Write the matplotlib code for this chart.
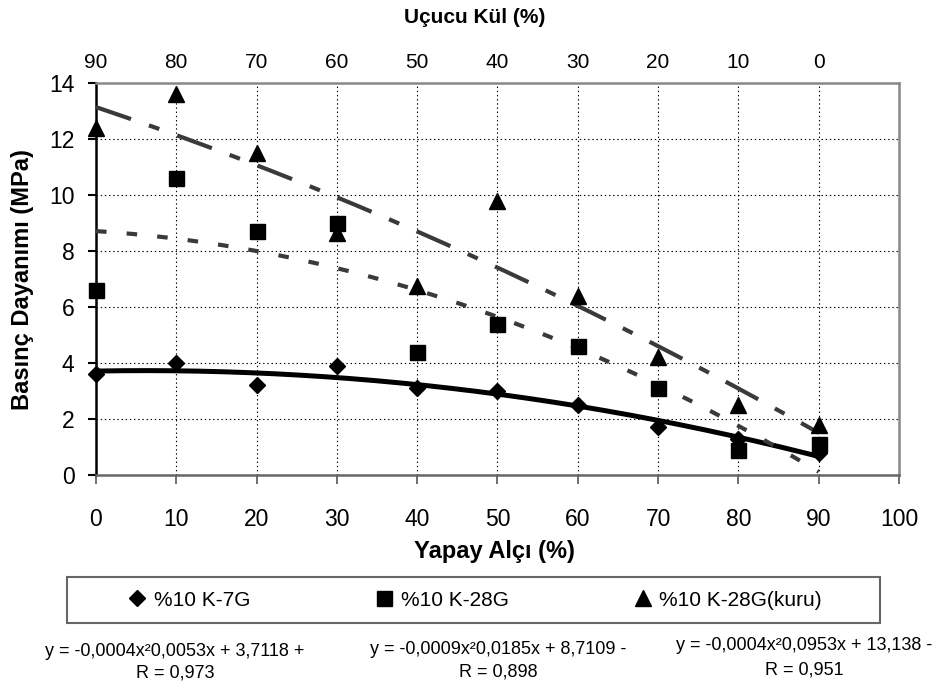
import numpy as np
import matplotlib
matplotlib.use('Agg')
import matplotlib.pyplot as plt
from matplotlib.lines import Line2D
from matplotlib.patches import Rectangle


#################### Data ####################


# bottom axis: yapay alci (%), top axis: ucucu kul (%)
yapay_alci = [0, 10, 20, 30, 40, 50, 60, 70, 80, 90]
ucucu_kul_labels = ['90', '80', '70', '60', '50', '40', '30', '20', '10', '0']

# compressive strength (MPa)
k_7g = [3.6, 4.0, 3.2, 3.9, 3.1, 3.0, 2.5, 1.7, 1.3, 0.8]
k_28g = [6.6, 10.6, 8.7, 9.0, 4.4, 5.4, 4.6, 3.1, 0.9, 1.1]
k_28g_kuru = [12.4, 13.6, 11.5, 8.65, 6.75, 9.8, 6.4, 4.2, 2.5, 1.8]

series_names = ['%10 K-7G', '%10 K-28G', '%10 K-28G(kuru)']

# trendline labels as printed under the chart
equations = ['y = -0,0004x²0,0053x + 3,7118 +',
             'y = -0,0009x²0,0185x + 8,7109 -',
             'y = -0,0004x²0,0953x + 13,138 -']
r_labels = ['R = 0,973', 'R = 0,898', 'R = 0,951']


#################### Plot ####################


plt.rcParams['font.family'] = ['Liberation Sans', 'DejaVu Sans']
plt.rcParams['lines.scale_dashes'] = False

W, H = 943, 690
fig = plt.figure(figsize=(W / 100, H / 100), dpi=100)


def fx(px):
    # pixel x -> figure fraction
    return px / W


def fy(py):
    # pixel y (from top) -> figure fraction
    return 1 - py / H


ax = fig.add_axes([fx(96), fy(475), fx(899) - fx(96), fy(83) - fy(475)])

# polynomial (order 2) trendlines fitted to the points
xs = np.linspace(0, 90, 200)
trend_styles = [dict(color='black', lw=3.6, ls='-'),
                dict(color='#3a3a3a', lw=3.0, ls=(0, (7.6, 14.5))),
                dict(color='#3a3a3a', lw=3.0, ls=(0, (26.6, 13.7, 7.9, 13.7)))]
for ys, style in zip([k_7g, k_28g, k_28g_kuru], trend_styles):
    coef = np.polyfit(yapay_alci, ys, 2)
    ax.plot(xs, np.polyval(coef, xs), zorder=3, **style)

markers = [('D', 7.7), ('s', 10.8), ('^', 11.3)]
for ys, (m, ms) in zip([k_7g, k_28g, k_28g_kuru], markers):
    ax.plot(yapay_alci, ys, ls='none', marker=m, ms=ms, color='black',
            clip_on=False, zorder=4)

ax.set_xlim(0, 100)
ax.set_ylim(0, 14)
ax.set_xticks(range(0, 101, 10))
ax.set_yticks(range(0, 15, 2))
ax.grid(True, color='black', linestyle=(0, (1, 2)), lw=0.8)
ax.set_axisbelow(True)

ax.spines['top'].set_color('#888888')
ax.spines['right'].set_color('#888888')
ax.spines['bottom'].set_color('#666666')
ax.spines['left'].set_color('black')
for s in ax.spines.values():
    s.set_linewidth(1.8)

ax.tick_params(axis='y', direction='out', length=6, width=1.5, pad=9.4,
               labelsize=16.5)
ax.tick_params(axis='x', direction='out', length=6.5, width=1.2, pad=17,
               labelsize=16.5, color='#555555')

# top axis with ucucu kul labels
ax2 = ax.twiny()
ax2.set_xlim(0, 100)
ax2.set_xticks(yapay_alci)
ax2.set_xticklabels(ucucu_kul_labels)
ax2.tick_params(axis='x', length=0, pad=7.6, labelsize=15)
for s in ax2.spines.values():
    s.set_visible(False)

# axis titles
fig.text(fx(474.5), fy(23), 'Uçucu Kül (%)', ha='center', va='baseline',
         fontsize=15, fontweight='bold')
fig.text(fx(494), fy(558), 'Yapay Alçı (%)', ha='center', va='baseline',
         fontsize=17, fontweight='bold')
fig.text(fx(23), fy(280), 'Basınç Dayanımı (MPa)', ha='center', va='center',
         rotation=90, fontsize=17, fontweight='bold')

# legend box and entries
fig.patches.append(Rectangle((fx(67), fy(623)), fx(880) - fx(67),
                             fy(577) - fy(623), transform=fig.transFigure,
                             fill=False, edgecolor='#666666', lw=1.5))
handles = [Line2D([], [], ls='none', marker=m, ms=ms, color='black')
           for m, ms in markers]
fig.legend(handles, series_names, loc='center', ncol=3, mode='expand',
           bbox_to_anchor=(fx(126.6), fy(623), fx(822) - fx(126.6),
                           fy(577) - fy(623)),
           frameon=False, fontsize=15, borderpad=0, borderaxespad=0,
           handlelength=1.0, handletextpad=0.3)

# trendline equations
eq_x = [175, 498, 804]
eq_y = [(651, 673), (649, 672), (645, 670)]
for x, (y1, y2), eq, r in zip(eq_x, eq_y, equations, r_labels):
    fig.text(fx(x), fy(y1), eq, ha='center', va='center', fontsize=13)
    fig.text(fx(x), fy(y2), r, ha='center', va='center', fontsize=13)

fig.savefig('out.png', dpi=100)
